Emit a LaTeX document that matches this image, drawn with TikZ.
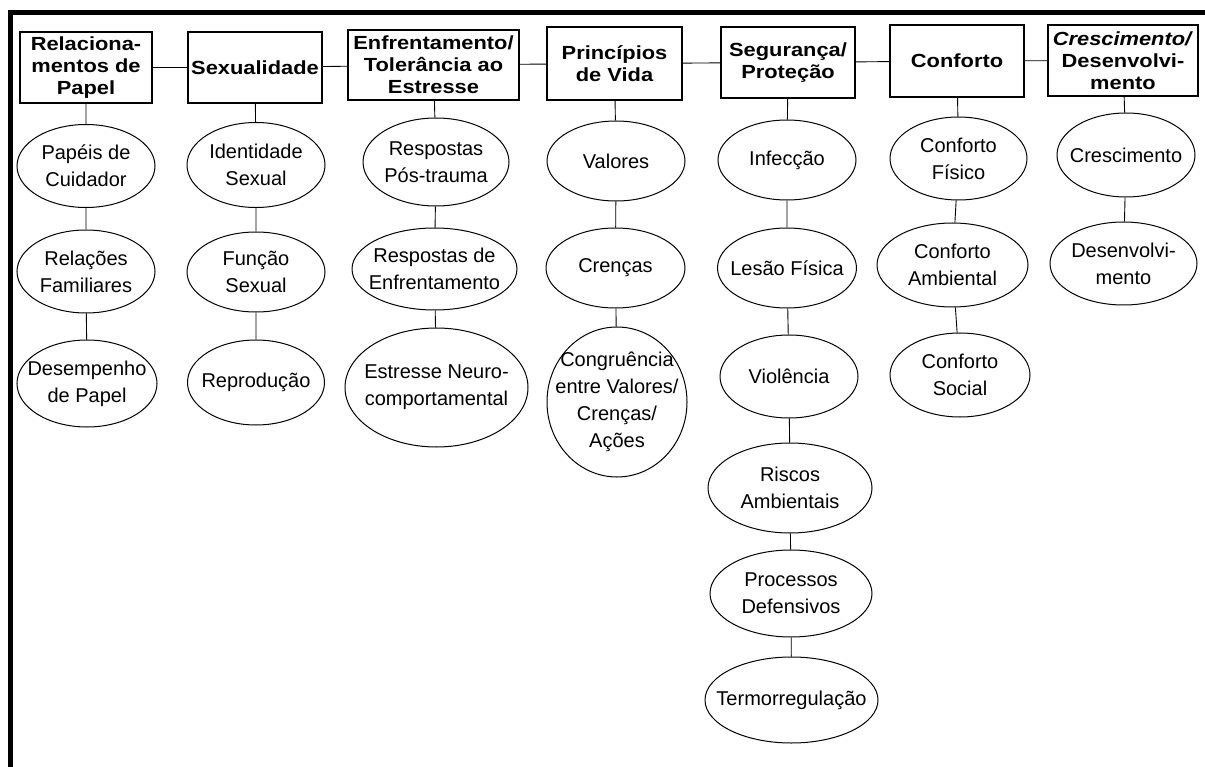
\documentclass[tikz,border=0pt]{standalone}
\usepackage{fontspec}
\setmainfont{Liberation Sans}
\newfontfamily\negrito[FakeStretch=1.15]{Liberation Sans}
\usetikzlibrary{shapes.geometric}

\begin{document}
\begin{tikzpicture}[x=1pt, y=-1pt,
    caixa/.style = {draw, line width=1.2pt, align=center, inner sep=1pt, minimum width=134pt, minimum height=71pt, font=\negrito\fontsize{19}{22}\selectfont\bfseries},
    elipse/.style = {draw, ellipse, line width=1pt, inner sep=0pt, minimum width=138pt, minimum height=82pt},
    rotulo/.style = {align=center, font=\fontsize{20}{27}\selectfont},
    txt/.style = {label={[rotulo]center:#1}},
    liga/.style = {line width=0.9pt}]
    \useasboundingbox (0,0) rectangle (1205,767);

    % Moldura
    \draw[line width=5pt] (1205,12.5) -- (10.5,12.5) -- (10.5,767);

    % Dominios
    \node[caixa, minimum width=132pt] (b1) at (86,67.5) {Relaciona-\\mentos de\\Papel};
    \node[caixa] (b2) at (255,67.5) {Sexualidade};
    \node[caixa, minimum width=171pt, minimum height=70pt] (b3) at (433.5,65) {Enfrentamento/\\Tolerância ao\\Estresse};
    \node[caixa, minimum width=135pt, minimum height=73pt] (b4) at (614.5,63.5) {Princípios\\de Vida};
    \node[caixa] (b5) at (788,62.5) {Segurança/\\Proteção};
    \node[caixa, minimum height=72pt] (b6) at (957,61) {Conforto};
    \node[caixa, minimum width=150pt] (b7) at (1123,60.5) {\textit{Crescimento/}\\Desenvolvi-\\mento};

    % Classes - coluna 1
    \node[elipse, minimum height=83pt, txt={Papéis de\\Cuidador}] (e11) at (86,166) {};
    \node[elipse, minimum height=83pt, txt={Relações\\Familiares}] (e12) at (86,271.5) {};
    \node[elipse, minimum width=140pt, minimum height=87pt, txt={Desempenho\\de Papel}] (e13) at (87,383.5) {};
    % coluna 2
    \node[elipse, minimum height=85pt, txt={Identidade\\Sexual}] (e21) at (256,165) {};
    \node[elipse, minimum height=80pt, txt={Função\\Sexual}] (e22) at (256,272) {};
    \node[elipse, minimum width=137pt, minimum height=85pt, txt={Reprodução}] (e23) at (256,382.5) {};
    % coluna 3
    \node[elipse, minimum width=146pt, minimum height=88pt, txt={Respostas\\Pós-trauma}] (e31) at (436,162) {};
    \node[elipse, minimum width=165pt, txt={Respostas de\\Enfrentamento}] (e32) at (434.5,269) {};
    \node[elipse, minimum width=183pt, minimum height=119pt, txt={Estresse Neuro-\\comportamental}] (e33) at (436.5,387.5) {};
    % coluna 4
    \node[elipse, minimum height=80pt, txt={Valores}] (e41) at (616,161) {};
    \node[elipse, minimum width=139pt, minimum height=80pt, txt={Crenças}] (e42) at (615.5,268) {};
    \node[elipse, minimum width=140pt, minimum height=150pt, txt={Congruência\\entre Valores/\\Crenças/\\Ações}] (e43) at (617,402) {};
    % coluna 5
    \node[elipse, minimum height=80pt, txt={Infecção}] (e51) at (787,160) {};
    \node[elipse, minimum width=139pt, minimum height=80pt, txt={Lesão Física}] (e52) at (787,268) {};
    \node[elipse, minimum height=83pt, txt={Violência}] (e53) at (789,376.5) {};
    \node[elipse, minimum width=164pt, minimum height=90pt, txt={Riscos\\Ambientais}] (e54) at (790,488) {};
    \node[elipse, minimum width=162pt, minimum height=87pt, txt={Processos\\Defensivos}] (e55) at (791,593.5) {};
    \node[elipse, minimum width=173pt, minimum height=86pt, txt={Termorregulação}] (e56) at (791.5,700) {};
    % coluna 6
    \node[elipse, minimum width=137pt, minimum height=83pt, txt={Conforto\\Físico}] (e61) at (958.5,158.5) {};
    \node[elipse, minimum width=151pt, minimum height=84pt, txt={Conforto\\Ambiental}] (e62) at (952.5,265) {};
    \node[elipse, minimum width=140pt, minimum height=84pt, txt={Conforto\\Social}] (e63) at (960,375) {};
    % coluna 7
    \node[elipse, minimum height=84pt, txt={Crescimento}] (e71) at (1126,155) {};
    \node[elipse, minimum width=147pt, minimum height=83pt, txt={Desenvolvi-\\mento}] (e72) at (1123.5,263.5) {};

    % Ligacoes
    \draw[liga] (b1) -- (b2) (b2) -- (b3) (b3) -- (b4) (b4) -- (b5) (b5) -- (b6) (b6) -- (b7);
    \draw[liga] (b1) -- (e11) (e11) -- (e12) (e12) -- (e13);
    \draw[liga] (b2) -- (e21) (e21) -- (e22) (e22) -- (e23);
    \draw[liga] (b3) -- (e31) (e31) -- (e32) (e32) -- (e33);
    \draw[liga] (b4) -- (e41) (e41) -- (e42) (e42) -- (e43);
    \draw[liga] (b5) -- (e51) (e51) -- (e52) (e52) -- (e53) (e53) -- (e54) (e54) -- (e55) (e55) -- (e56);
    \draw[liga] (b6) -- (e61) (e61) -- (e62) (e62) -- (e63);
    \draw[liga] (b7) -- (e71) (e71) -- (e72);
\end{tikzpicture}
\end{document}
